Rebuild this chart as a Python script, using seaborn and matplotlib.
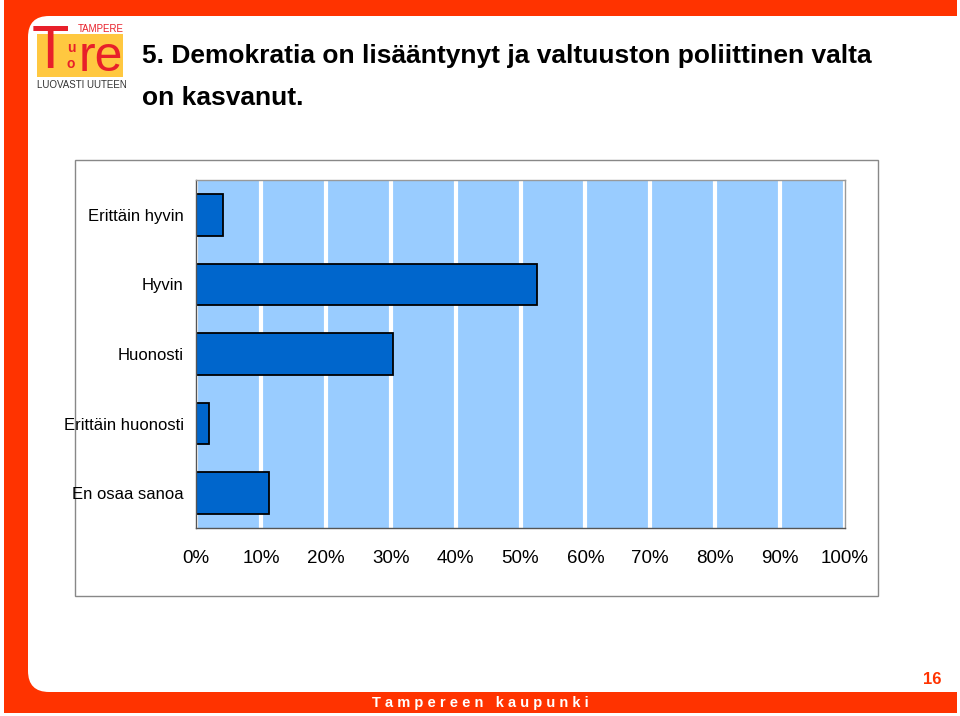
import numpy as np
import pandas as pd
import seaborn as sns
import matplotlib.pyplot as plt
from matplotlib.patches import Rectangle, FancyBboxPatch

# data
categories = ["Erittäin hyvin", "Hyvin", "Huonosti", "Erittäin huonosti", "En osaa sanoa"]
shares = [4.2, 52.5, 30.4, 2.0, 11.2]
xticks = list(range(0, 101, 10))
xticklabels = [f"{t}%" for t in xticks]
title_lines = ["5. Demokratia on lisääntynyt ja valtuuston poliittinen valta", "on kasvanut."]

df = pd.DataFrame({"kategoria": categories, "osuus": shares})

sns.set_style("white")
plt.rcParams['font.family'] = ['Liberation Sans', 'DejaVu Sans']

W, H = 960, 716
fig = plt.figure(figsize=(9.6, 7.16), dpi=100)


def px(x, y):
    # pixel coords (top-left origin) -> figure fraction
    return x / W, 1 - y / H


orange = "#FF3300"

# slide frame
fig.patches.append(Rectangle((4 / W, 1 - 713 / H), 953 / W, 713 / H, transform=fig.transFigure,
                             facecolor=orange, edgecolor="none", zorder=0))
x0, y0 = px(28, 692)
fig.patches.append(FancyBboxPatch((x0, y0), 1.2, (692 - 16) / H, transform=fig.transFigure,
                                  boxstyle="round,pad=0,rounding_size=0.022",
                                  facecolor="white", edgecolor="none", zorder=0.5,
                                  mutation_aspect=W / H))
fig.patches.append(Rectangle((957 / W, 0), 3 / W, 1, transform=fig.transFigure,
                             facecolor="white", edgecolor="none", zorder=0.6))

# logo
lx, ly = px(37, 77)
fig.patches.append(Rectangle((lx, ly), 86 / W, 43 / H, transform=fig.transFigure,
                             facecolor="#FFC840", edgecolor="none", zorder=1))
fig.text(*px(50, 52), "T", color="#E8202A", fontsize=44, ha="center", va="center", zorder=2)
fig.text(*px(71, 48), "u", color="#E8202A", fontsize=10, fontweight="bold", ha="center", va="center", zorder=2)
fig.text(*px(71, 64), "o", color="#E8202A", fontsize=10, fontweight="bold", ha="center", va="center", zorder=2)
fig.text(*px(101, 58), "re", color="#E8202A", fontsize=36, ha="center", va="center", zorder=2)
fig.text(*px(124, 29), "TAMPERE", color="#E8202A", fontsize=7, ha="right", va="center", zorder=2)
fig.text(*px(37, 85), "LUOVASTI UUTEEN", color="#333333", fontsize=7, ha="left", va="center", zorder=2)

# title
fig.text(*px(142, 56), title_lines[0], fontsize=19, fontweight="bold", color="black", va="center")
fig.text(*px(142, 98), title_lines[1], fontsize=19, fontweight="bold", color="black", va="center")

# chart box
bx, by = px(75, 596)
fig.patches.append(Rectangle((bx, by), (878 - 75) / W, (596 - 160) / H, transform=fig.transFigure,
                             facecolor="white", edgecolor="#888888", linewidth=1, zorder=1))

ax_l, ax_b = px(196, 528)
ax = fig.add_axes([ax_l, ax_b, (845 - 196) / W, (528 - 180) / H], zorder=3)
ax.set_facecolor("#99CCFF")

sns.barplot(data=df, x="osuus", y="kategoria", orient="h", color="#0066CC",
            edgecolor="black", linewidth=1.3, width=0.6, saturation=1, ax=ax)

ax.set_xlim(0, 100)
ax.set_ylim(4.5, -0.5)
ax.set_xticks(xticks)
ax.set_xticklabels(xticklabels, fontsize=13.5, color="black")
ax.xaxis.grid(True, color="white", linewidth=3)
ax.set_axisbelow(True)
ax.set_xlabel("")
ax.set_ylabel("")

ax.set_yticks(range(len(categories)))
ax.set_yticklabels(categories, fontsize=12, color="black")
ax.tick_params(axis="y", length=0, pad=9)
ax.set_yticks(np.arange(-0.5, len(categories), 1), minor=True)
ax.tick_params(axis="y", which="minor", length=5, color="#555555", direction="out")
ax.tick_params(axis="x", length=5, color="#555555", direction="out", pad=11)

for side in ["top", "right"]:
    ax.spines[side].set_color("#999999")
    ax.spines[side].set_linewidth(1)
for side in ["left", "bottom"]:
    ax.spines[side].set_color("#555555")
    ax.spines[side].set_linewidth(1)

# footer
fig.text(*px(480, 703), "T a m p e r e e n   k a u p u n k i", color="white", fontsize=10.5,
         fontweight="bold", ha="center", va="center", zorder=2)
fig.text(*px(932, 680), "16", color=orange, fontsize=12, fontweight="bold",
         ha="center", va="center", zorder=2)

fig.savefig("out.png", dpi=100)
